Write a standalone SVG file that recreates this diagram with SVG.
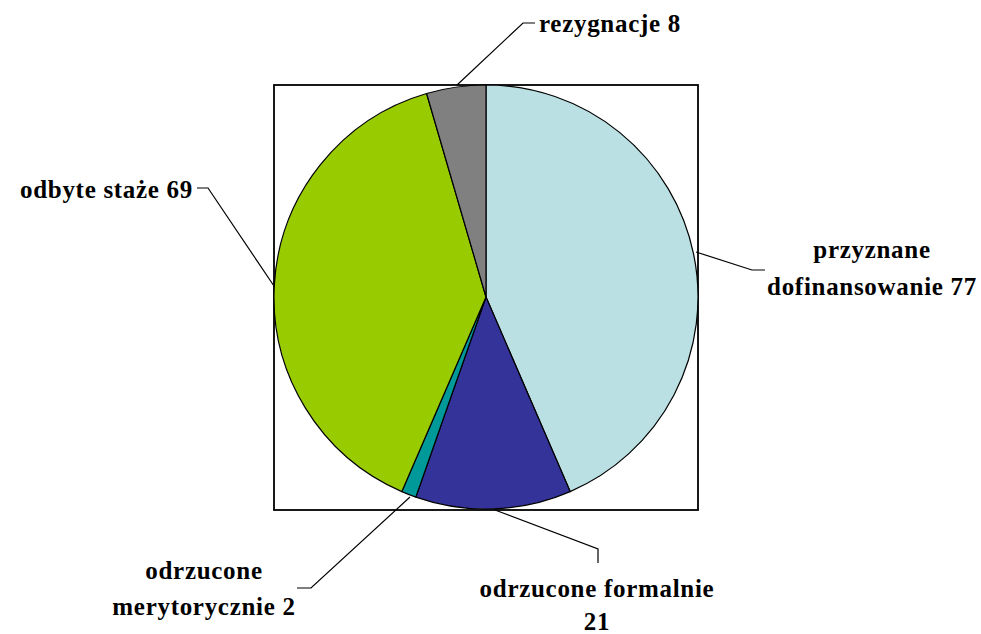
<svg xmlns="http://www.w3.org/2000/svg" width="981" height="634" viewBox="0 0 981 634">
<style>
.sl{stroke:#000;stroke-width:1.2;stroke-linejoin:round}
.ld{fill:none;stroke:#000;stroke-width:1.2}
</style>
<rect width="981" height="634" fill="#fff"/>
<rect x="274" y="85" width="424" height="425" fill="#fff" stroke="#000" stroke-width="1.8"/>
<g id="slice-przyznane">
<path class="sl" d="M486,297 L486,85 A212,212 0 0,1 570.16,491.58 Z" fill="#BAE0E3"/>
</g>
<g id="slice-formalnie">
<path class="sl" d="M486,297 L570.16,491.58 A212,212 0 0,1 415.86,497.06 Z" fill="#333399"/>
</g>
<g id="slice-merytorycznie">
<path class="sl" d="M486,297 L415.86,497.06 A212,212 0 0,1 401.84,491.58 Z" fill="#009999"/>
</g>
<g id="slice-staze">
<path class="sl" d="M486,297 L401.84,491.58 A212,212 0 0,1 426.60,93.49 Z" fill="#99CC00"/>
</g>
<g id="slice-rezygnacje">
<path class="sl" d="M486,297 L426.60,93.49 A212,212 0 0,1 486,85 Z" fill="#808080"/>
</g>
<g id="connectors">
<polyline class="ld" points="457,85 523,23 535,23"/>
<polyline class="ld" points="197,188 208,188 274,286"/>
<polyline class="ld" points="696,252 752,270 765,270"/>
<polyline class="ld" points="410,497 311,588 297,588"/>
<polyline class="ld" points="495,510 598,549 598,563"/>
</g>
<g font-family="Liberation Serif, Times New Roman, serif" font-weight="bold" font-size="25" fill="#000" letter-spacing="0.7">
<g id="label-rezygnacje"><text x="539" y="32">rezygnacje 8</text></g>
<g id="label-staze"><text x="193" y="198" text-anchor="end">odbyte staże 69</text></g>
<g id="label-przyznane"><text x="872" y="258" text-anchor="middle">przyznane</text><text x="872" y="295" text-anchor="middle">dofinansowanie 77</text></g>
<g id="label-merytorycznie"><text x="204" y="579" text-anchor="middle">odrzucone</text><text x="204" y="615" text-anchor="middle">merytorycznie 2</text></g>
<g id="label-formalnie"><text x="597" y="597" text-anchor="middle">odrzucone formalnie</text><text x="597" y="630" text-anchor="middle">21</text></g>
</g>
</svg>
